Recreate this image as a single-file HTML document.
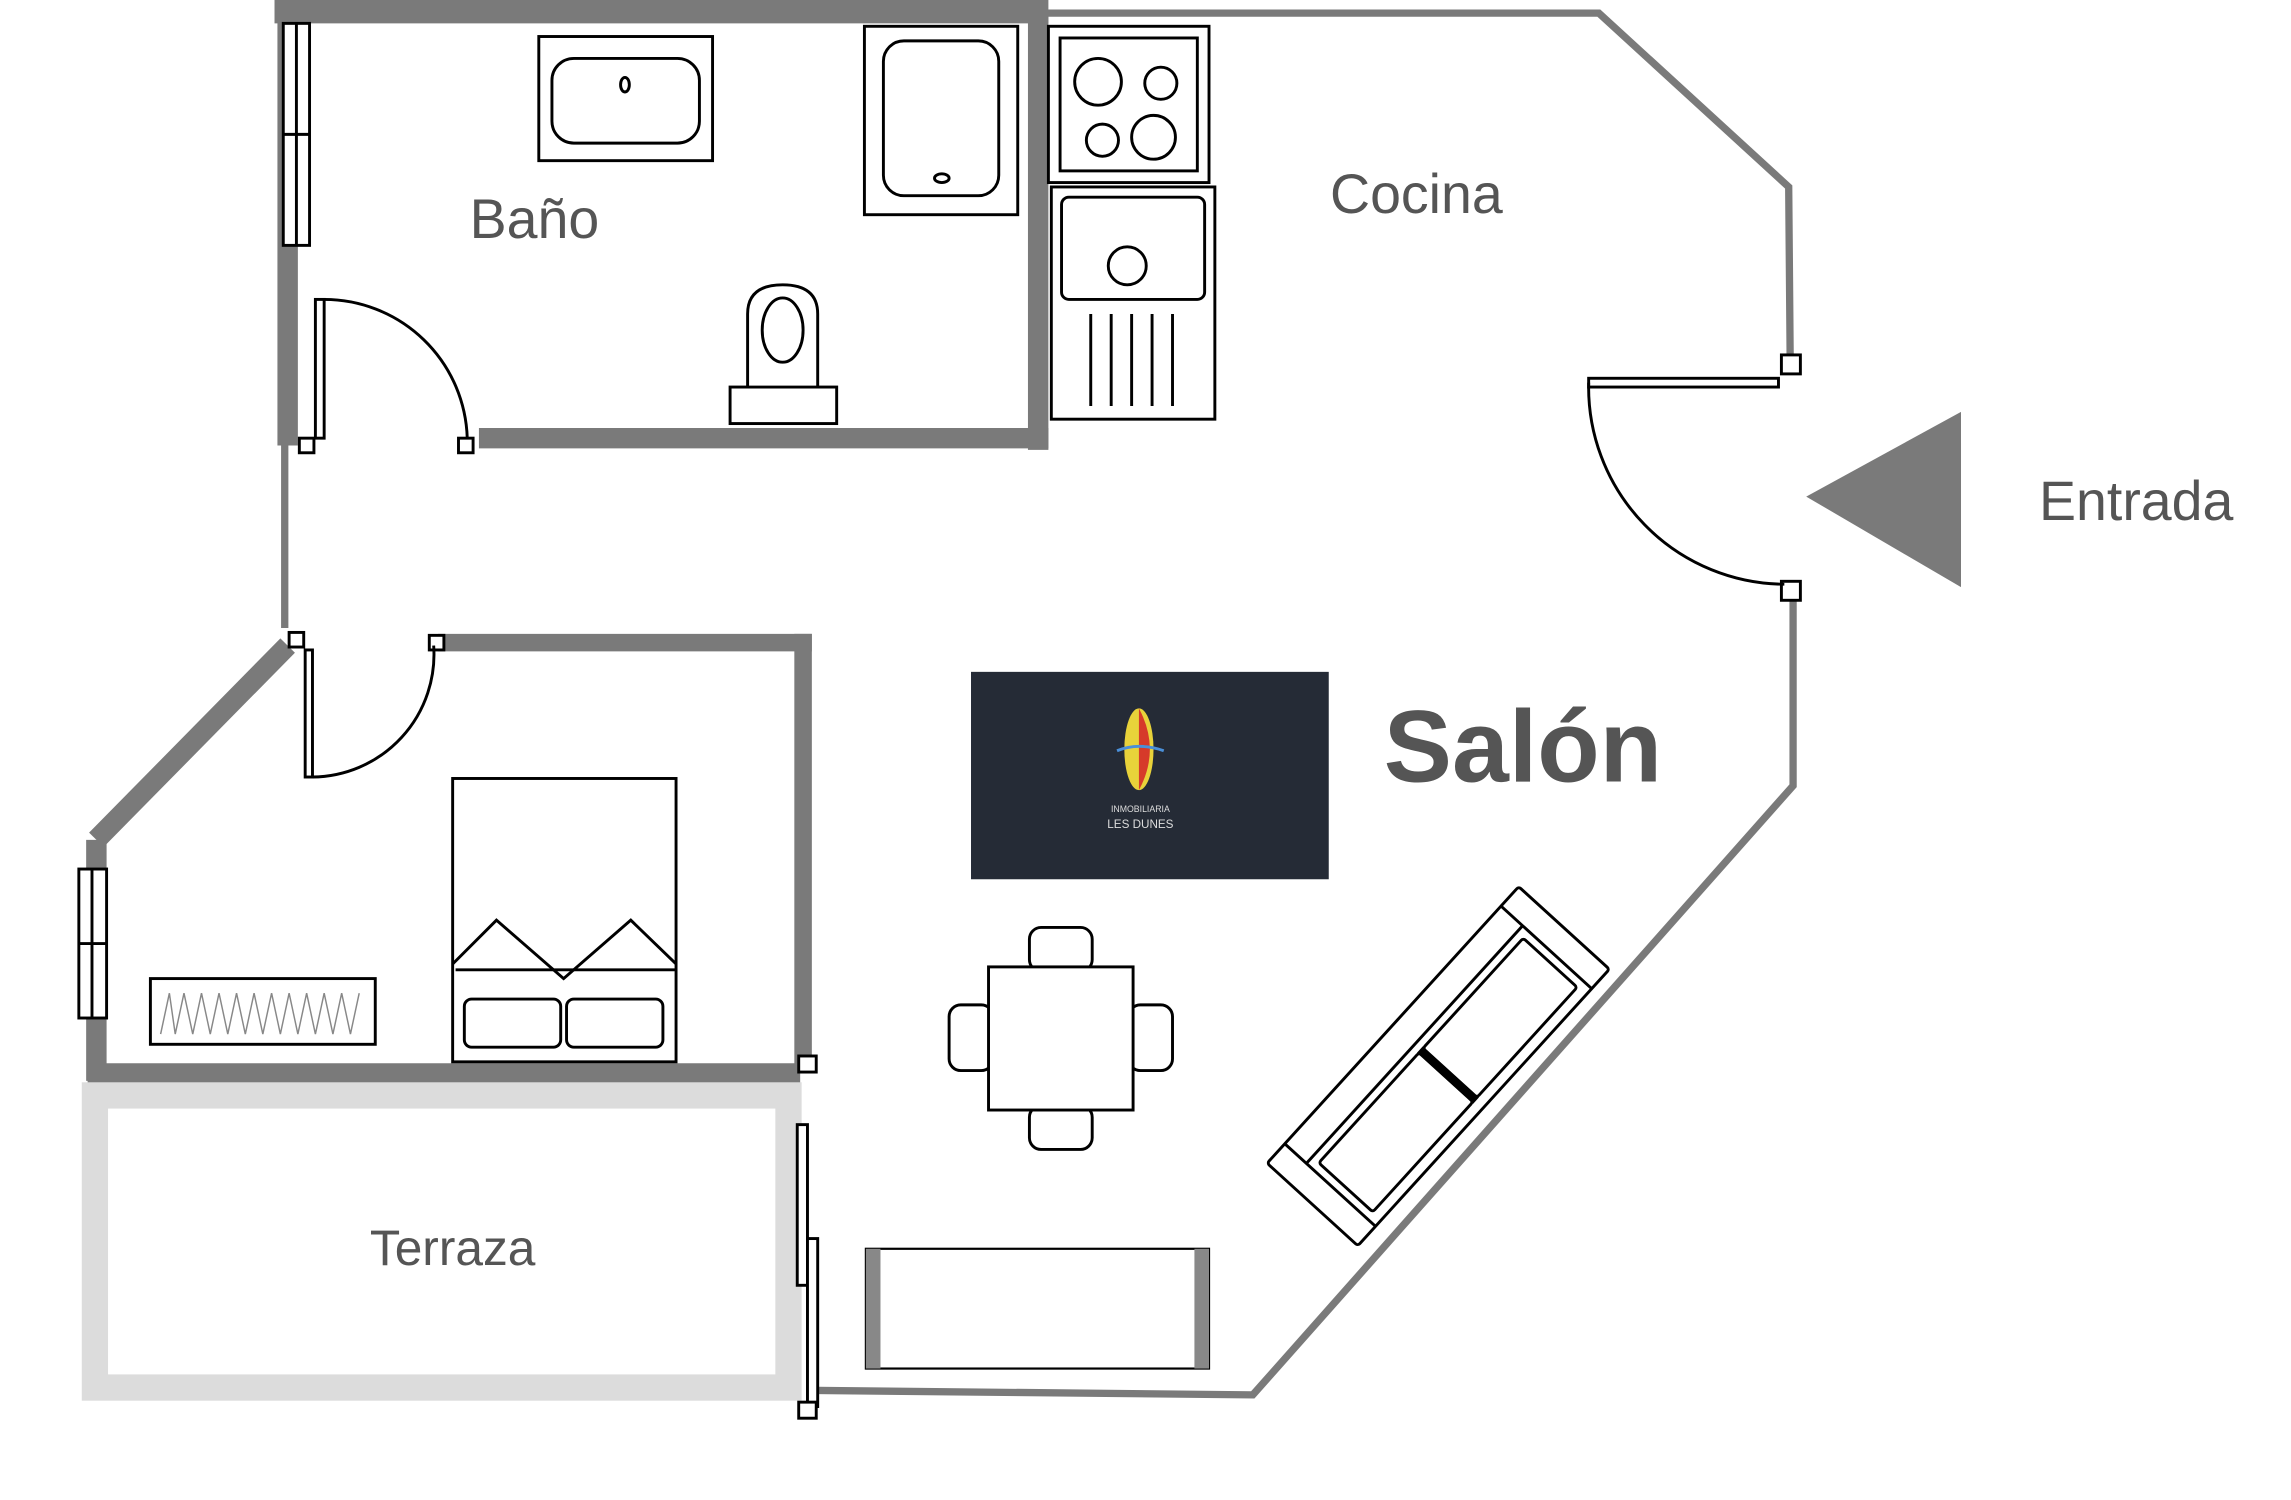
<!DOCTYPE html>
<html><head><meta charset="utf-8"><style>
html,body{margin:0;padding:0;background:#fff}
svg{display:block}
text{font-family:"Liberation Sans",sans-serif;fill:#555}
</style></head><body>
<svg width="2291" height="1500" viewBox="0 0 1569 1027" preserveAspectRatio="none" xmlns="http://www.w3.org/2000/svg">
<rect width="1569" height="1027" fill="#fff"/>
<g stroke="#7a7a7a" fill="none" stroke-linecap="butt">
 <polyline points="685,9 1095,9 1225,128 1226,245" stroke-width="5"/>
 <polyline points="1228,410 1228,538 858,955 560,952" stroke-width="5"/>
 <line x1="195" y1="305" x2="195" y2="430" stroke-width="5"/>
 <line x1="188" y1="8" x2="718" y2="8" stroke-width="16"/>
 <line x1="711" y1="8" x2="711" y2="308" stroke-width="14"/>
 <line x1="328" y1="300" x2="718" y2="300" stroke-width="14"/>
 <line x1="197" y1="8" x2="197" y2="305" stroke-width="14"/>
 <line x1="300" y1="440" x2="556" y2="440" stroke-width="12"/>
 <line x1="550" y1="434" x2="550" y2="730" stroke-width="12"/>
 <line x1="60" y1="735" x2="548" y2="735" stroke-width="14"/>
 <line x1="66" y1="575" x2="66" y2="740" stroke-width="14"/>
 <line x1="66" y1="575" x2="197" y2="442" stroke-width="14"/>
</g>
<rect x="65" y="750" width="475" height="200" fill="none" stroke="#dcdcdc" stroke-width="18"/>
<g stroke="#000" fill="#fff" stroke-width="2">
 <rect x="194" y="16" width="18" height="152"/>
 <line x1="203" y1="16" x2="203" y2="168"/><line x1="194" y1="92" x2="212" y2="92"/>
 <rect x="54" y="595" width="19" height="102"/>
 <line x1="63" y1="595" x2="63" y2="697"/><line x1="54" y1="646" x2="73" y2="646"/>
 <rect x="546" y="770" width="7" height="110"/><rect x="553" y="848" width="7" height="115"/>
 <rect x="205" y="300" width="10" height="10"/><rect x="314" y="300" width="10" height="10"/>
 <rect x="198" y="433" width="10" height="10"/><rect x="294" y="435" width="10" height="10"/>
 <rect x="1220" y="243" width="13" height="13"/><rect x="1220" y="398" width="13" height="13"/>
 <rect x="547" y="723" width="12" height="11"/><rect x="547" y="960" width="12" height="11"/>
 <rect x="216" y="205" width="6" height="95"/>
 <path d="M222,205 A98,98 0 0 1 320,300" fill="none"/>
 <rect x="209" y="445" width="5" height="87"/>
 <path d="M214,532 A84,84 0 0 0 297,442" fill="none"/>
 <rect x="1088" y="259" width="130" height="6"/>
 <path d="M1088,262 A135,135 0 0 0 1222,400" fill="none"/>
 <rect x="369" y="25" width="119" height="85"/>
 <rect x="378" y="40" width="101" height="58" rx="15"/>
 <ellipse cx="428" cy="58" rx="3" ry="5"/>
 <rect x="592" y="18" width="105" height="129"/>
 <rect x="605" y="28" width="79" height="106" rx="14"/>
 <ellipse cx="645" cy="122" rx="5" ry="3"/>
 <rect x="500" y="265" width="73" height="25"/>
 <path d="M512,265 L512,215 Q512,195 536,195 Q560,195 560,215 L560,265 Z"/>
 <ellipse cx="536" cy="226" rx="14" ry="22"/>
 <rect x="718" y="18" width="110" height="107"/><rect x="726" y="26" width="94" height="91"/>
 <circle cx="752" cy="56" r="16"/><circle cx="795" cy="57" r="11"/>
 <circle cx="755" cy="96" r="11"/><circle cx="790" cy="94" r="15"/>
 <rect x="720" y="128" width="112" height="159"/>
 <rect x="727" y="135" width="98" height="70" rx="5"/>
 <circle cx="772" cy="182" r="13"/>
 <g fill="none"><line x1="747" y1="215" x2="747" y2="278"/><line x1="761" y1="215" x2="761" y2="278"/><line x1="775" y1="215" x2="775" y2="278"/><line x1="789" y1="215" x2="789" y2="278"/><line x1="803" y1="215" x2="803" y2="278"/></g>
 <rect x="310" y="533" width="153" height="194"/>
 <polyline points="310,660 340,630 386,670 432,630 463,660" fill="none"/>
 <polyline points="312,664 463,664" fill="none"/>
 <rect x="318" y="684" width="66" height="33" rx="5"/><rect x="388" y="684" width="66" height="33" rx="5"/>
 <rect x="103" y="670" width="154" height="45"/>
 <polyline points="110,708 116,680 120,708 126,680 132,708 138,680 144,708 150,680 156,708 162,680 168,708 174,680 180,708 186,680 192,708 198,680 204,708 210,680 216,708 222,680 228,708 234,680 240,708 246,680" fill="none" stroke="#888" stroke-width="1"/>
 <rect x="705" y="635" width="43" height="30" rx="8"/><rect x="705" y="757" width="43" height="30" rx="8"/>
 <rect x="650" y="688" width="30" height="45" rx="8"/><rect x="773" y="688" width="30" height="45" rx="8"/>
 <rect x="677" y="662" width="99" height="98"/>
 <g transform="translate(985,730) rotate(-47.7)">
  <rect x="-128" y="-42" width="256" height="84" rx="2"/>
  <line x1="-110" y1="-42" x2="-110" y2="42"/><line x1="110" y1="-42" x2="110" y2="42"/>
  <line x1="-110" y1="-22" x2="110" y2="-22"/>
  <rect x="-104" y="-16" width="102" height="50" rx="2"/><rect x="2" y="-16" width="102" height="50" rx="2"/>
  <rect x="-2" y="-16" width="4" height="50" fill="#000"/>
 </g>
</g>
<rect x="593" y="855" width="235" height="82" fill="#fff" stroke="#000" stroke-width="1.5"/>
<rect x="593" y="855" width="10" height="82" fill="#888"/><rect x="818" y="855" width="10" height="82" fill="#888"/>
<polygon points="1237,340 1343,282 1343,402" fill="#7a7a7a"/>
<rect x="665" y="460" width="245" height="142" fill="#252b36"/>
<ellipse cx="780" cy="513" rx="10" ry="28" fill="#e8d23a"/>
<path d="M780,485 Q795,513 780,541 Z" fill="#d63a2a"/>
<path d="M765,514 Q780,508 797,514" stroke="#4a8fd8" stroke-width="2" fill="none"/>
<text x="781" y="556" font-size="6" text-anchor="middle" style="fill:#ddd">INMOBILIARIA</text>
<text x="781" y="567" font-size="8" text-anchor="middle" style="fill:#ddd">LES DUNES</text>
<text x="366" y="163" font-size="38" text-anchor="middle">Baño</text>
<text x="970" y="146" font-size="38" text-anchor="middle">Cocina</text>
<text x="1463" y="356" font-size="38" text-anchor="middle">Entrada</text>
<text x="1043" y="535" font-size="70" text-anchor="middle" style="fill:#555;font-weight:bold">Salón</text>
<text x="310" y="866" font-size="34" text-anchor="middle">Terraza</text>
</svg>
</body></html>
